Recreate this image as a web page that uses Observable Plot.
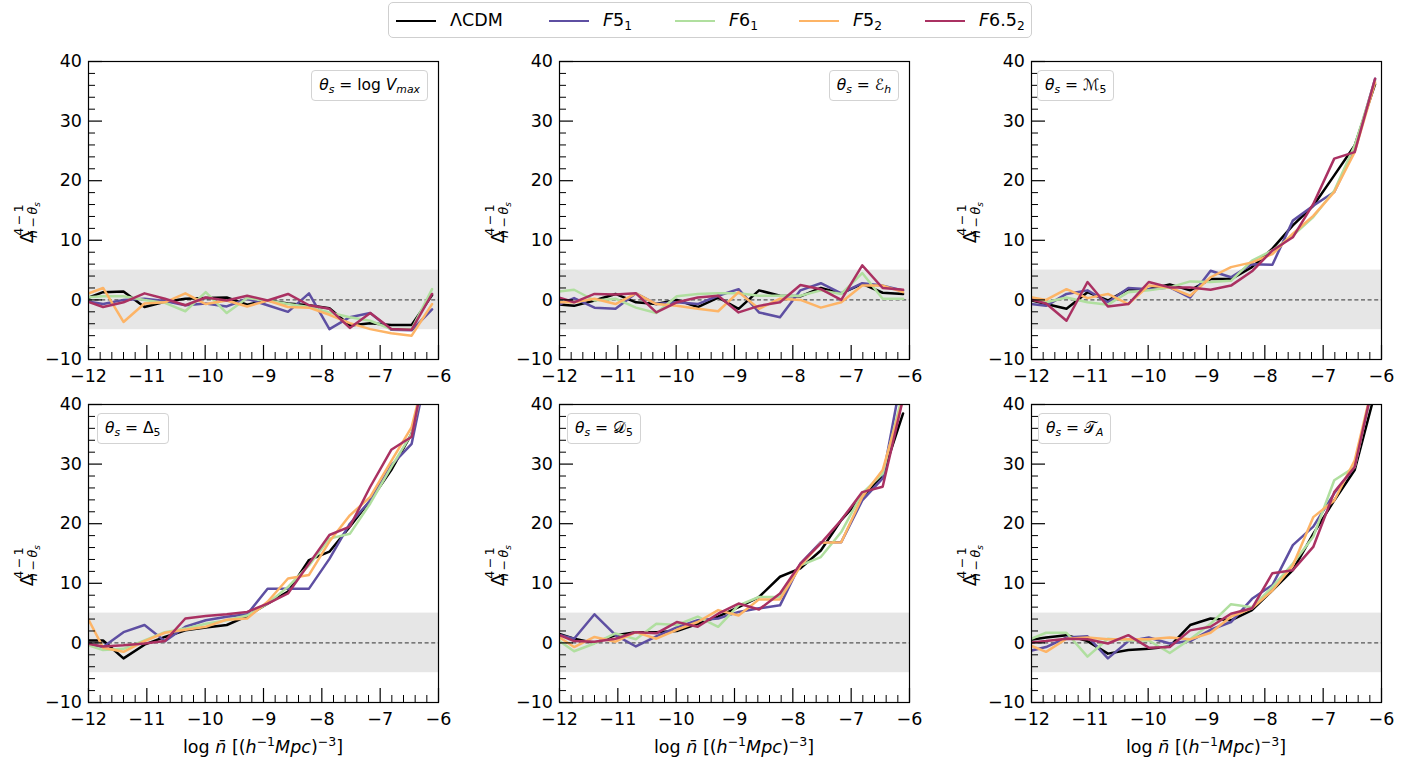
<!DOCTYPE html>
<html><head><meta charset="utf-8">
<script src="https://cdn.jsdelivr.net/npm/d3@7"></script>
<script src="https://cdn.jsdelivr.net/npm/@observablehq/plot@0.6"></script>
<style>
body{margin:0;background:#fff;}
#fig{position:relative;width:1418px;height:762px;font-family:"DejaVu Sans",sans-serif;overflow:hidden;background:#fff;}
.panel{position:absolute;}
.panel svg{background:transparent;overflow:visible;}
.legend{position:absolute;left:388px;top:2px;width:644px;height:36px;border:1.3px solid #cfcfcf;border-radius:5px;box-sizing:border-box;font-size:17.5px;background:#fff;}
.lline{position:absolute;top:16.5px;width:40px;height:2.4px;}
.llab{position:absolute;top:5px;line-height:24px;white-space:nowrap;}
.ann{position:absolute;border:1.2px solid #d3d3d3;border-radius:4px;background:rgba(255,255,255,0.85);font-size:15.5px;line-height:20px;padding:4px 7px 5px 7px;white-space:nowrap;box-sizing:border-box;height:31px;}
i{font-style:italic;}
.sb{font-size:0.7em;position:relative;top:0.3em;}
</style></head>
<body><div id="fig"></div>
<script>
// ---------- data ----------
const xs = [-12.10, -11.75, -11.40, -11.04, -10.69, -10.34, -9.99, -9.63, -9.28, -8.93, -8.58, -8.22, -7.87, -7.52, -7.17, -6.81, -6.46, -6.11];
const seriesNames = ["ΛCDM", "F5_1", "F6_1", "F5_2", "F6.5_2"];
const seriesColors = ["#000000", "#5e4fa2", "#b0df9f", "#fdb466", "#aa3162"];
const xMajorTicks = [-12, -11, -10, -9, -8, -7, -6];
const yMajorTicks = [-10, 0, 10, 20, 30, 40];
const xMinorTicks = [-11.8,-11.6,-11.4,-11.2,-10.8,-10.6,-10.4,-10.2,-9.8,-9.6,-9.4,-9.2,-8.8,-8.6,-8.4,-8.2,-7.8,-7.6,-7.4,-7.2,-6.8,-6.6,-6.4,-6.2];
const yMinorTicks = [-8,-6,-4,-2,2,4,6,8,12,14,16,18,22,24,26,28,32,34,36,38];
const bandLimits = [-5, 5];

// rows: ΛCDM, F5_1, F6_1, F5_2, F6.5_2
const logVmax = [
  [0.0, 1.3, 1.4, -1.2, -0.3, 0.2, 0.3, 0.4, -0.8, -0.1, -0.6, -0.9, -1.4, -4.3, -3.9, -4.2, -4.2, 0.8],
  [-0.1, -0.7, 0.0, 0.2, -0.2, -0.9, -0.6, -1.1, 0.2, -0.9, -2.0, 1.1, -4.9, -2.9, -2.2, -5.0, -5.1, -1.6],
  [0.4, 0.6, 0.6, 0.0, -0.5, -1.9, 1.3, -2.2, 0.3, -0.1, -0.7, -1.2, -2.1, -2.9, -3.5, -4.9, -4.9, 1.8],
  [0.7, 2.0, -3.7, -0.6, -0.4, 1.1, -0.7, -0.1, -1.1, -0.1, -1.2, -1.3, -2.5, -3.9, -4.9, -5.6, -6.0, -0.7],
  [0.0, -1.2, -0.4, 1.1, 0.2, -0.9, 0.4, -0.1, 0.7, -0.1, 1.0, -0.9, -1.5, -4.7, -2.2, -4.9, -5.0, 1.0]
];
const energyH = [
  [-0.7, -1.0, -0.1, 1.0, -0.4, -0.7, 0.0, -1.2, 0.4, -1.5, 1.6, 0.7, 0.6, 2.0, 1.1, 2.7, 1.2, 1.0],
  [-1.2, 0.3, -1.3, -1.5, 1.1, -0.7, -0.4, -0.7, 0.7, 1.8, -2.1, -2.9, 1.6, 2.8, 1.1, 2.8, 2.4, 1.6],
  [1.3, 1.7, -0.1, 0.2, -1.3, -2.2, 0.6, 1.0, 1.1, 1.1, 0.7, 0.7, 0.7, 1.6, 1.0, 4.5, 0.2, 0.2],
  [-0.4, -0.4, 0.2, -0.7, 1.1, -0.7, -1.0, -1.5, -1.9, 1.3, -1.5, 0.2, 0.0, -1.3, -0.4, 2.4, 2.4, 1.3],
  [0.7, -0.4, 1.0, 0.9, 1.1, -2.1, -0.4, 0.4, 0.7, -2.1, -1.0, -0.4, 2.5, 1.8, 0.0, 5.8, 2.0, 1.7]
];
const mass5 = [
  [0.2, -0.7, -1.5, 1.3, -0.1, 1.8, 1.8, 2.6, 1.6, 3.5, 3.5, 5.5, 8.6, 12.5, 15.8, 20.9, 25.9, 36.2],
  [-0.6, -1.0, 1.0, 1.6, -0.4, 2.0, 1.8, 2.1, 0.4, 4.9, 3.8, 6.0, 5.9, 13.3, 15.8, 18.1, 25.3, 37.1],
  [0.3, -0.4, 0.4, -0.4, -0.8, 1.3, 1.6, 2.1, 3.1, 3.0, 3.2, 6.6, 8.3, 10.8, 13.9, 18.3, 25.9, 36.8],
  [0.6, 0.0, 1.8, 0.3, 1.0, -0.7, 2.4, 2.1, 0.7, 3.8, 5.5, 6.3, 7.7, 11.1, 14.1, 18.1, 24.8, 36.5],
  [0.3, -0.6, -3.5, 3.0, -1.1, -0.7, 3.0, 2.1, 2.1, 1.7, 2.4, 4.8, 8.3, 10.5, 16.1, 23.7, 24.8, 37.1]
];
const delta5 = [
  [0.4, 0.4, -2.6, -0.3, 1.0, 2.1, 2.6, 3.0, 4.5, 6.6, 8.6, 13.9, 15.3, 19.5, 23.9, 29.0, 35.1, 50],
  [0.0, -0.7, 1.8, 3.0, 0.3, 2.7, 3.8, 4.4, 4.8, 9.1, 9.1, 9.1, 14.1, 20.0, 23.9, 29.8, 33.4, 50],
  [-0.1, -1.2, -1.0, 0.4, 1.8, 2.4, 3.2, 3.8, 4.6, 6.6, 9.4, 13.0, 17.5, 18.3, 23.4, 29.5, 35.1, 50],
  [5.8, -0.8, -1.5, 0.3, 1.7, 2.2, 2.7, 3.9, 4.1, 6.9, 10.8, 11.4, 17.0, 21.4, 24.5, 30.5, 36.2, 50],
  [0.0, -0.6, -0.4, -0.1, 0.3, 4.1, 4.5, 4.8, 5.2, 6.6, 8.3, 13.3, 18.1, 19.5, 26.2, 32.4, 34.6, 52]
];
const distance5 = [
  [1.8, 0.7, 0.0, 1.3, 1.8, 1.8, 2.0, 3.2, 4.4, 6.0, 7.7, 11.1, 12.5, 15.5, 20.6, 24.5, 28.1, 38.5],
  [1.6, 0.7, 4.8, 1.3, -0.6, 1.1, 2.6, 3.8, 4.1, 5.2, 5.8, 6.3, 13.3, 16.9, 16.9, 23.9, 27.6, 46],
  [1.0, -1.4, -0.1, 1.6, 0.6, 3.2, 3.0, 4.4, 2.7, 6.3, 7.7, 7.7, 13.0, 14.4, 18.6, 25.1, 28.4, 42],
  [1.6, -0.7, 1.0, 0.2, 1.8, 0.7, 2.2, 3.5, 5.5, 4.6, 7.3, 7.3, 12.9, 16.8, 16.9, 24.5, 29.0, 41],
  [1.7, 0.3, 0.2, 0.7, 1.8, 1.6, 3.5, 2.7, 4.9, 6.6, 5.6, 8.3, 13.3, 16.7, 20.6, 25.3, 26.2, 41]
];
const tidalA = [
  [0.4, 0.9, 1.3, 0.3, -1.8, -1.2, -1.0, -0.6, 3.0, 4.1, 3.8, 5.5, 8.8, 12.2, 18.3, 23.9, 29.0, 42],
  [-1.5, -0.7, 0.9, 1.1, -2.6, 0.3, 0.9, -0.1, 0.3, 2.2, 3.5, 7.4, 9.7, 16.4, 19.5, 25.1, 29.5, 45],
  [0.3, 1.7, 1.7, -2.3, 0.7, 0.4, 0.4, -1.7, 0.6, 3.2, 6.5, 6.0, 9.4, 13.3, 17.8, 27.3, 29.5, 45],
  [-0.1, -1.5, 0.7, 0.9, 0.6, 0.6, 0.6, 0.9, 0.6, 1.7, 4.4, 5.8, 8.8, 13.0, 21.1, 23.9, 30.6, 45],
  [0.0, 0.3, 0.7, 0.6, -0.1, 1.3, -0.8, -0.7, 2.1, 2.7, 4.9, 5.8, 11.7, 12.2, 16.1, 25.3, 29.5, 45]
];

const TH = '<i>θ</i><span class="sb"><i>s</i></span> = ';
const panelTitles = [
  TH + 'log <i>V</i><span class="sb"><i>max</i></span>',
  TH + 'ℰ<span class="sb"><i>h</i></span>',
  TH + 'ℳ<span class="sb">5</span>',
  TH + 'Δ<span class="sb">5</span>',
  TH + '𝒟<span class="sb">5</span>',
  TH + '𝒯<span class="sb"><i>A</i></span>'
];
const panelData = [logVmax, energyH, mass5, delta5, distance5, tidalA];

// ---------- layout ----------
const PW = 350, PH = 298;
const mL = 85, mR = 12, mT = 12, mB = 60;
const colLeft = [88, 559, 1031];
const rowTop = [61, 404];
const annPos = [
  {right: 10, top: 9}, {right: 10, top: 9}, {left: 6, top: 9},
  {left: 9, top: 9}, {left: 8, top: 9}, {left: 7, top: 9}
];
const fmt = d => (d < 0 ? "\u2212" + Math.abs(d) : String(d));
const fig = document.getElementById("fig");

// legend
const legend = document.createElement("div");
legend.className = "legend";
const legLabels = ["ΛCDM", '<i>F</i>5<span class="sb">1</span>', '<i>F</i>6<span class="sb">1</span>', '<i>F</i>5<span class="sb">2</span>', '<i>F</i>6.5<span class="sb">2</span>'];
const legLine = [7, 160, 286, 410, 536];
seriesNames.forEach((s, i) => {
  const l = document.createElement("div");
  l.className = "lline"; l.style.left = legLine[i] + "px"; l.style.background = seriesColors[i];
  legend.appendChild(l);
  const t = document.createElement("div");
  t.className = "llab"; t.style.left = (legLine[i] + 54) + "px"; t.innerHTML = legLabels[i];
  legend.appendChild(t);
});
fig.appendChild(legend);

panelData.forEach((vals, p) => {
  const col = p % 3, row = Math.floor(p / 3);
  const rows = [];
  vals.forEach((arr, s) => arr.forEach((v, k) => rows.push({x: xs[k], y: v, s: seriesNames[s]})));
  const svg = Plot.plot({
    width: PW + mL + mR, height: PH + mT + mB,
    marginLeft: mL, marginRight: mR, marginTop: mT, marginBottom: mB,
    x: {domain: [-12, -6]},
    y: {domain: [-10, 40]},
    color: {domain: seriesNames, range: seriesColors},
    style: {fontFamily: "DejaVu Sans", fontSize: "17.5px", background: "transparent", color: "black", overflow: "visible"},
    marks: [
      Plot.rect([bandLimits], {y1: d => d[0], y2: d => d[1], fill: "#e6e6e6"}),
      Plot.ruleY([0], {stroke: "#555", strokeWidth: 1.3, strokeDasharray: "4,2.6"}),
      Plot.line(rows, {x: "x", y: "y", z: "s", stroke: "s", strokeWidth: 2.5, clip: true}),
      Plot.tickY(yMajorTicks, {y: d => d, insetRight: PW - 14, stroke: "black", strokeWidth: 1.2}),
      Plot.tickY(yMinorTicks, {y: d => d, insetRight: PW - 7, stroke: "black", strokeWidth: 1}),
      Plot.tickX(xMajorTicks, {x: d => d, insetTop: PH - 14, stroke: "black", strokeWidth: 1.2}),
      Plot.tickX(xMinorTicks, {x: d => d, insetTop: PH - 7, stroke: "black", strokeWidth: 1}),
      Plot.frame({stroke: "black", strokeWidth: 1.2}),
      Plot.axisY({ticks: yMajorTicks, tickSize: 0, tickPadding: 6.5, tickFormat: fmt, label: null}),
      Plot.axisX({ticks: xMajorTicks, tickSize: 0, tickPadding: 10, tickFormat: fmt, label: null})
    ]
  });
  // y label  Δ^{4−1}_{n̄−θs}
  const g = d3.select(svg).append("g")
    .attr("transform", `translate(${mL - 55},${mT + PH / 2 - 2}) rotate(-90)`)
    .attr("font-family", "DejaVu Sans").attr("fill", "black");
  g.append("text").attr("x", -29).attr("y", 0).attr("font-size", 18.5).text("Δ");
  g.append("text").attr("x", -12).attr("y", -10).attr("font-size", 12.5).text("4\u2009\u2212\u20091");
  const sub = g.append("text").attr("x", -12).attr("y", 4).attr("font-size", 12.5);
  sub.append("tspan").attr("font-style", "italic").text("n\u0304");
  sub.append("tspan").text("\u2009\u2212\u2009");
  sub.append("tspan").attr("font-style", "italic").text("θ");
  sub.append("tspan").attr("font-style", "italic").attr("font-size", 9).attr("dy", 2.5).text("s");
  // Δ placed after measuring its width so sup/sub never overlap it
  // x label on bottom row
  if (row === 1) {
    const t = d3.select(svg).append("text")
      .attr("x", mL + PW / 2).attr("y", mT + PH + 51)
      .attr("text-anchor", "middle").attr("font-size", 17.5).attr("font-family", "DejaVu Sans");
    t.append("tspan").text("log ");
    t.append("tspan").attr("font-style", "italic").text("n\u0304");
    t.append("tspan").text(" [(");
    t.append("tspan").attr("font-style", "italic").text("h");
    t.append("tspan").attr("font-size", 12.5).attr("dy", -7).text("\u22121");
    t.append("tspan").attr("font-style", "italic").attr("dy", 7).text("Mpc");
    t.append("tspan").text(")");
    t.append("tspan").attr("font-size", 12.5).attr("dy", -7).text("\u22123");
    t.append("tspan").attr("dy", 7).text("]");
  }
  const div = document.createElement("div");
  div.className = "panel";
  div.style.left = (colLeft[col] - mL) + "px";
  div.style.top = (rowTop[row] - mT) + "px";
  div.appendChild(svg);
  fig.appendChild(div);
  // annotation box
  const a = document.createElement("div");
  a.className = "ann";
  a.innerHTML = panelTitles[p];
  a.style.top = (rowTop[row] + annPos[p].top) + "px";
  if (annPos[p].right != null) a.style.right = (1418 - (colLeft[col] + PW) + annPos[p].right) + "px";
  else a.style.left = (colLeft[col] + annPos[p].left) + "px";
  fig.appendChild(a);
});
</script>
</body></html>
